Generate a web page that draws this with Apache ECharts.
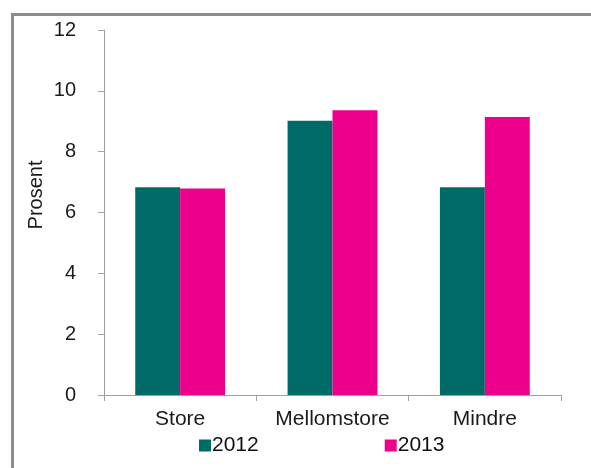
<!DOCTYPE html>
<html>
<head>
<meta charset="utf-8">
<script src="https://cdn.jsdelivr.net/npm/echarts@6/dist/echarts.min.js"></script>
<style>
html,body{margin:0;padding:0;background:#fff;}
#c{width:591px;height:468px;}
</style>
</head>
<body>
<div id="c"></div>
<script>
const categories = ["Store", "Mellomstore", "Mindre"];
const series2012 = [6.83, 9.02, 6.83];
const series2013 = [6.79, 9.36, 9.14];
const seriesNames = ["2012", "2013"];
const yTicks = { min: 0, max: 12, interval: 2 };
const yAxisTitle = "Prosent";

const chart = echarts.init(document.getElementById('c'), null, { renderer: 'canvas' });
const font = 'Liberation Sans, Arial, sans-serif';
chart.setOption({
  animation: false,
  backgroundColor: '#fff',
  grid: { left: 104, right: 30, top: 30, bottom: 73, containLabel: false },
  legend: {
    data: seriesNames,
    left: 199, top: 435, padding: 0,
    itemWidth: 12, itemHeight: 12, itemGap: 126,
    icon: 'rect',
    textStyle: { fontFamily: font, fontSize: 21, color: '#111', padding: [0, 0, 0, -4] }
  },
  xAxis: {
    type: 'category',
    data: categories,
    axisLine: { lineStyle: { color: '#a0a0a0', width: 1 } },
    axisTick: { show: true, length: 6, lineStyle: { color: '#a0a0a0' }, alignWithLabel: false },
    axisLabel: { fontFamily: font, fontSize: 21, color: '#1a1a1a', margin: 14 }
  },
  yAxis: {
    type: 'value',
    min: yTicks.min, max: yTicks.max, interval: yTicks.interval,
    axisLine: { show: true, lineStyle: { color: '#a0a0a0', width: 1 } },
    axisTick: { show: true, length: 6, lineStyle: { color: '#a0a0a0' } },
    splitLine: { show: false },
    axisLabel: { fontFamily: font, fontSize: 20, color: '#1a1a1a', margin: 28 }
  },
  series: [
    { name: seriesNames[0], type: 'bar', data: series2012, barGap: '0%', barCategoryGap: '41%',
      itemStyle: { color: '#006B66' } },
    { name: seriesNames[1], type: 'bar', data: series2013, barGap: '0%', barCategoryGap: '41%',
      itemStyle: { color: '#EC008C' } }
  ],
  graphic: [
    { type: 'polyline', silent: true,
      shape: { points: [[12.5, 470], [12.5, 14.5], [595, 14.5]] },
      style: { stroke: '#8c8c8c', lineWidth: 3, fill: null } },
    { type: 'text', silent: true, x: 36, y: 195, rotation: Math.PI / 2,
      style: { text: yAxisTitle, font: '20px ' + font, fill: '#1a1a1a',
               align: 'center', verticalAlign: 'middle' } }
  ]
});
</script>
</body>
</html>
